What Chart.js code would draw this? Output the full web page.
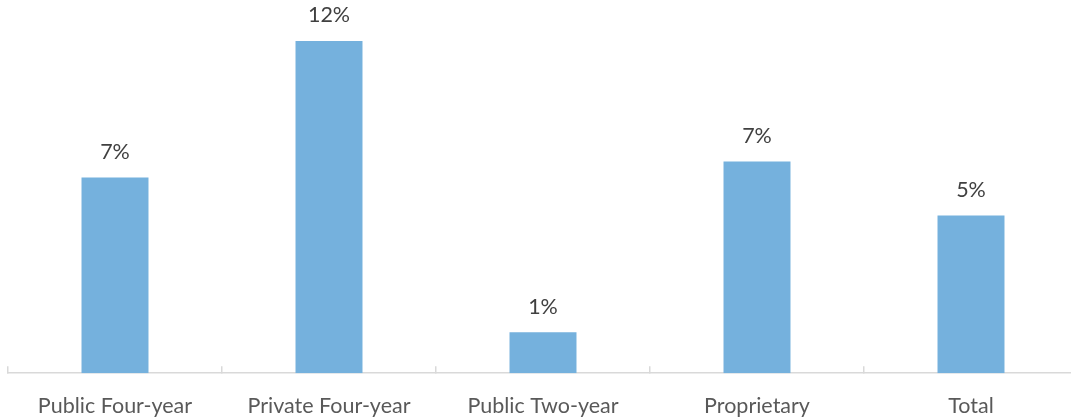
<!DOCTYPE html>
<html>
<head>
<meta charset="utf-8">
<script src="https://cdn.jsdelivr.net/npm/chart.js@4/dist/chart.umd.min.js"></script>
<style>
    html, body { margin: 0; padding: 0; background: #fff; overflow: hidden; }
    #wrap { width: 1078px; height: 446px; }
</style>
</head>
<body>
<div id="wrap"><canvas id="sectorChart" width="1078" height="446"></canvas></div>
<script>
const categories = ['Public Four-year', 'Private Four-year', 'Public Two-year', 'Proprietary', 'Total'];
const shares = [6.8, 11.55, 1.42, 7.36, 5.48]; // percent
const yMax = 12;

// value labels above each bar
const barLabels = {
    id: 'barLabels',
    afterDatasetsDraw(chart) {
        const ctx = chart.ctx;
        const meta = chart.getDatasetMeta(0);
        ctx.save();
        ctx.font = '21.5px Lato';
        ctx.fillStyle = '#404040';
        ctx.textAlign = 'center';
        ctx.textBaseline = 'middle';
        meta.data.forEach((bar, i) => {
            ctx.fillText(Math.round(shares[i]) + '%', bar.x, bar.y - 25.5);
        });
        ctx.restore();
    }
};

document.addEventListener("DOMContentLoaded", () => {
    const ctx = document.getElementById('sectorChart').getContext('2d');

    new Chart(ctx, {
        type: 'bar',
        data: {
            labels: categories,
            datasets: [
                {
                    data: shares,
                    backgroundColor: '#75b1dd',
                    borderWidth: 0,
                    categoryPercentage: 1,
                    barPercentage: 0.313
                }
            ]
        },
        options: {
            responsive: false,
            animation: false,
            layout: { padding: { top: 28, left: 8, right: 0, bottom: 0 } },
            scales: {
                x: {
                    grid: {
                        offset: true,
                        drawOnChartArea: false,
                        drawTicks: true,
                        tickLength: -7,
                        color: '#d9d9d9',
                        lineWidth: 1.5
                    },
                    border: { color: '#d9d9d9', width: 1.5 },
                    ticks: {
                        color: '#595959',
                        font: { family: 'Lato', size: 21.5 },
                        padding: 27,
                        maxRotation: 0
                    }
                },
                y: {
                    display: false,
                    min: 0,
                    max: yMax
                }
            },
            plugins: {
                legend: { display: false },
                tooltip: { enabled: false }
            }
        },
        plugins: [barLabels]
    });
});
</script>
</body>
</html>
